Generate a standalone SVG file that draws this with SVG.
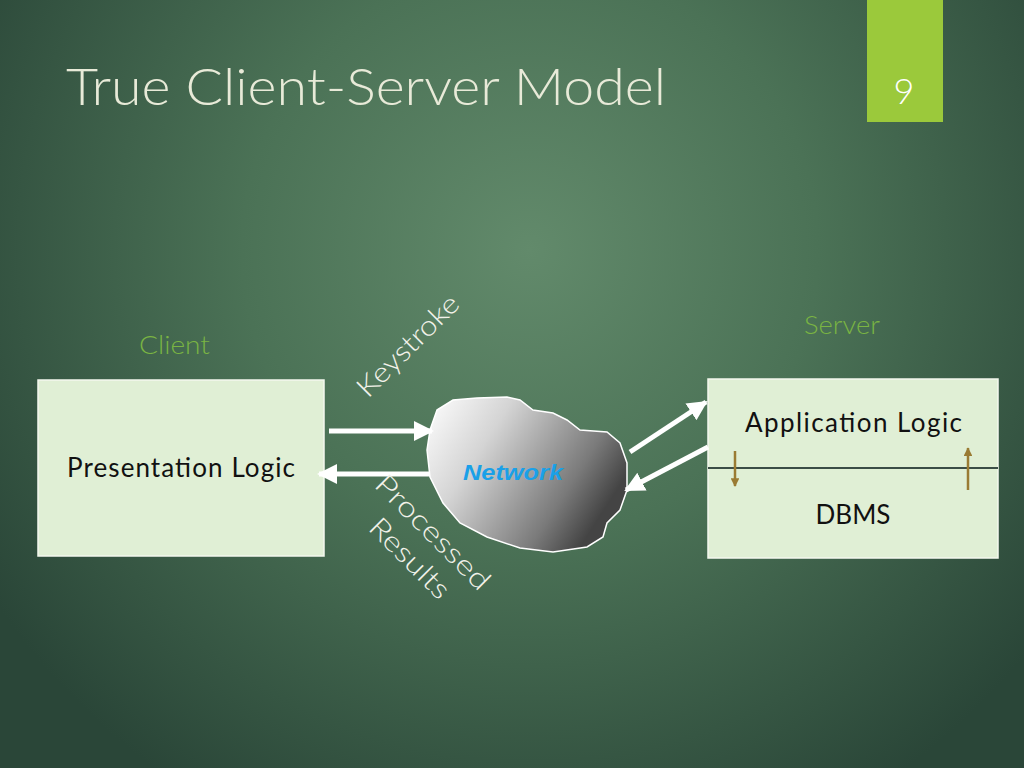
<svg xmlns="http://www.w3.org/2000/svg" width="1024" height="768" viewBox="0 0 1024 768">
<defs>
  <radialGradient id="bg" cx="530" cy="250" r="640" gradientUnits="userSpaceOnUse">
    <stop offset="0" stop-color="#628a6b"/>
    <stop offset="0.45" stop-color="#4b7256"/>
    <stop offset="1" stop-color="#2a4638"/>
  </radialGradient>
  <linearGradient id="cloudg" x1="0" y1="0" x2="1" y2="0.5">
    <stop offset="0" stop-color="#ffffff"/>
    <stop offset="0.35" stop-color="#d4d4d4"/>
    <stop offset="0.8" stop-color="#7a7a7a"/>
    <stop offset="1" stop-color="#444444"/>
  </linearGradient>
  <marker id="wh" viewBox="0 0 10 10" refX="9" refY="5" markerWidth="4" markerHeight="4" orient="auto" markerUnits="strokeWidth">
    <path d="M0,0 L10,5 L0,10 z" fill="#ffffff"/>
  </marker>
  <marker id="br" viewBox="0 0 10 10" refX="9" refY="5" markerWidth="4" markerHeight="3.5" orient="auto" markerUnits="strokeWidth">
    <path d="M0,0 L10,5 L0,10 z" fill="#9a7b33"/>
  </marker>
  <style>
    .lbl { font-family: Lato, "Liberation Sans", sans-serif; font-weight: 300; }
    .box { fill: #e0efd5; stroke: #f4f8ee; stroke-width: 1.5; }
    .btxt { font-family: Lato, "Liberation Sans", sans-serif; font-size: 26px; fill: #111111; text-anchor: start; }
    .wl { fill: none; stroke: #ffffff; stroke-width: 5; marker-end: url(#wh); }
    .bl { fill: none; stroke: #9a7b33; stroke-width: 2.5; marker-end: url(#br); }
    .rot { font-family: Lato, "Liberation Sans", sans-serif; font-weight: 300; font-size: 28px; fill: #f2f2ea; }
  </style>
</defs>
<rect width="1024" height="768" fill="url(#bg)"/>
<text x="66" y="105" class="lbl" font-size="52" fill="#e8ead8" textLength="600" lengthAdjust="spacingAndGlyphs">True Client-Server Model</text>
<g id="slide-number">
  <rect x="867" y="0" width="76" height="122" fill="#9bc93b"/>
  <text x="904" y="104" class="lbl" font-size="36" fill="#ffffff" text-anchor="middle">9</text>
</g>
<g id="client">
  <text x="139" y="354" class="lbl" font-size="25" fill="#7ab443" textLength="71" lengthAdjust="spacingAndGlyphs">Client</text>
  <rect x="38" y="380" width="286" height="176" class="box"/>
  <text x="67" y="477" class="btxt" textLength="228" lengthAdjust="spacing">Presentation Logic</text>
</g>
<g id="server">
  <text x="804" y="334" class="lbl" font-size="25" fill="#7ab443" textLength="76" lengthAdjust="spacingAndGlyphs">Server</text>
  <rect x="708" y="379" width="290" height="179" class="box"/>
  <line x1="708" y1="468" x2="998" y2="468" stroke="#3b4d46" stroke-width="2"/>
  <text x="745" y="432" class="btxt" textLength="217" lengthAdjust="spacing">Application Logic</text>
  <text x="853" y="524" class="btxt" style="text-anchor:middle">DBMS</text>
</g>
<g id="network">
  <path d="M437,410 L453,400 L477,398 L507,397 L520,400 L533,410 L553,413 L567,420 L580,430 L607,432 L620,443 L627,463 L627,490 L620,510 L607,523 L603,537 L587,547 L553,552 L520,548 L487,537 L460,523 L443,503 L430,477 L427,450 L430,430 Z" fill="url(#cloudg)" stroke="#ffffff" stroke-width="1.5"/>
  <text x="463" y="480" font-family="Liberation Sans, sans-serif" font-size="22" font-weight="bold" font-style="italic" fill="#1aa0e8" textLength="100" lengthAdjust="spacingAndGlyphs">Network</text>
</g>
<g id="connectors">
  <line x1="329" y1="431" x2="432" y2="431" class="wl"/>
  <line x1="430" y1="474" x2="319" y2="474" class="wl"/>
  <line x1="630" y1="452" x2="706" y2="402" class="wl"/>
  <line x1="708" y1="447" x2="626" y2="490" class="wl"/>
  <line x1="735" y1="451" x2="735" y2="486" class="bl"/>
  <line x1="968" y1="490" x2="968" y2="448" class="bl"/>
</g>
<g id="labels">
  <text class="rot" transform="translate(368,399) rotate(-45)" textLength="132" lengthAdjust="spacingAndGlyphs">Keystroke</text>
  <text class="rot" transform="translate(373,486) rotate(45)" textLength="150" lengthAdjust="spacingAndGlyphs">Processed</text>
  <text class="rot" transform="translate(367,529) rotate(45)" textLength="102" lengthAdjust="spacingAndGlyphs">Results</text>
</g>
</svg>
